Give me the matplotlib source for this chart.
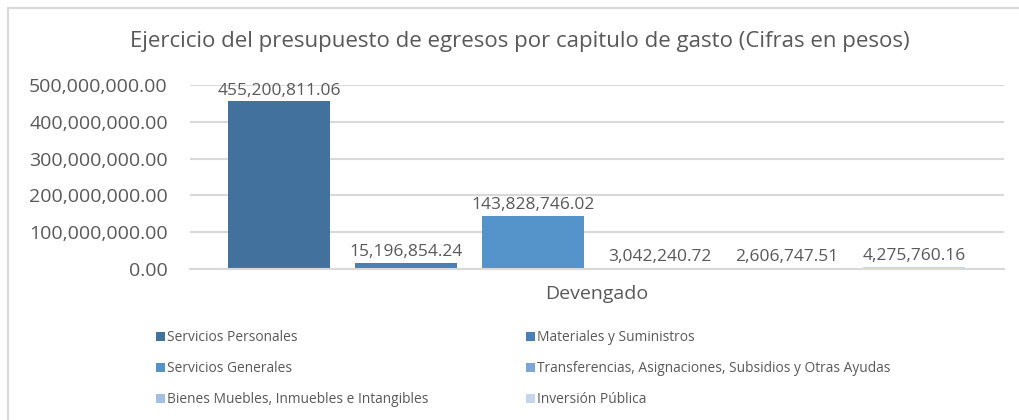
import matplotlib
matplotlib.use("Agg")
import matplotlib.pyplot as plt
from matplotlib.patches import Rectangle

# data
capitulos = ['Servicios Personales', 'Materiales y Suministros', 'Servicios Generales',
             'Transferencias, Asignaciones, Subsidios y Otras Ayudas',
             'Bienes Muebles, Inmuebles e Intangibles', 'Inversión Pública']
devengado = [455200811.06, 15196854.24, 143828746.02, 3042240.72, 2606747.51, 4275760.16]
colores = ['#41719c', '#4a7fb6', '#5593cb', '#7aa7d6', '#a3bfe2', '#c5d5ea']
yticks = [0, 100000000, 200000000, 300000000, 400000000, 500000000]

plt.rcParams['font.family'] = ['Open Sans', 'DejaVu Sans']
gris = '#595959'

fig = plt.figure(figsize=(10.19, 4.2), dpi=100)
# chart border
fig.patches.append(Rectangle((8 / 1019, -0.01), 1.02, 1 - 7.5 / 420 + 0.01,
                             transform=fig.transFigure, fill=False,
                             edgecolor='#d9d9d9', linewidth=1.5))

ax = fig.add_axes([190 / 1019, 1 - 269 / 420, (1004 - 190) / 1019, (269 - 85) / 420])
xs = list(range(len(devengado)))
bars = ax.bar(xs, devengado, width=0.8, color=colores, label=capitulos, zorder=3)
for x, v in zip(xs, devengado):
    ax.text(x, v + 8000000, '{:,.2f}'.format(v), ha='center', va='bottom',
            fontsize=12.5, color=gris)

ax.set_xlim(-0.70, 5.71)
ax.set_ylim(0, 500000000)
ax.set_yticks(yticks)
ax.set_yticklabels(['{:,.2f}'.format(t) for t in yticks], fontsize=14, color=gris)
ax.tick_params(axis='y', length=0, pad=16)
ax.set_xticks([])
ax.yaxis.grid(True, color='#d9d9d9', linewidth=1.5, zorder=0)
for s in ['top', 'right', 'left']:
    ax.spines[s].set_visible(False)
ax.spines['bottom'].set_color('#d9d9d9')
ax.spines['bottom'].set_linewidth(1.5)
ax.spines['bottom'].set_zorder(4)

fig.text(520 / 1019, 1 - 42 / 420, 'Ejercicio del presupuesto de egresos por capitulo de gasto (Cifras en pesos)',
         ha='center', va='center', fontsize=16, color=gris)
fig.text(597 / 1019, 1 - 294 / 420, 'Devengado', ha='center', va='center',
         fontsize=14, color=gris)

# legend: two columns, three rows
handles = [bars[i] for i in range(len(capitulos))]
order = [0, 2, 4, 1, 3, 5]
leg = fig.legend([handles[i] for i in order], [capitulos[i] for i in order],
                 ncol=2, loc='upper left', bbox_to_anchor=(144 / 1019, 1 - 318 / 420),
                 frameon=False, fontsize=9.9, handlelength=0.6, handleheight=0.6,
                 handletextpad=0.2, columnspacing=7.1, labelspacing=1.15,
                 labelcolor=gris)

fig.savefig('out.png', dpi=100)
